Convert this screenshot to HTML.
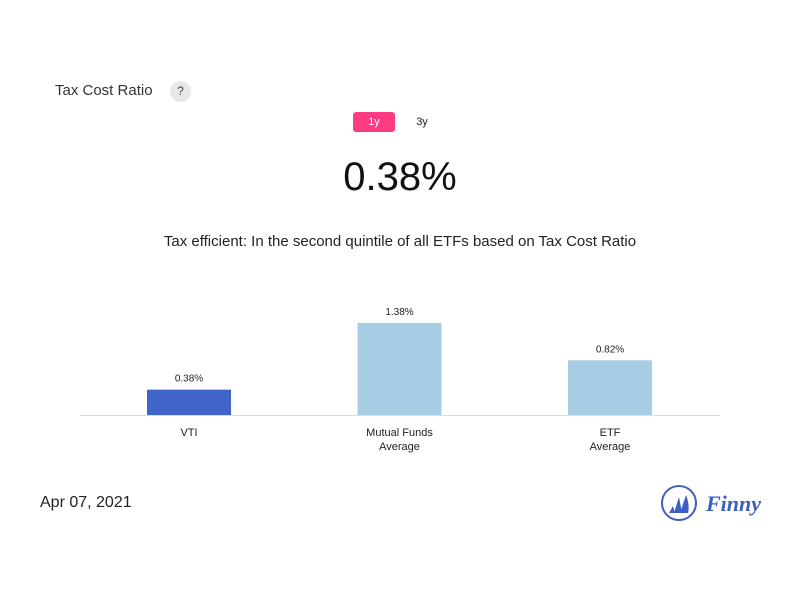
<!DOCTYPE html>
<html><head><meta charset="utf-8"><style>
body{margin:0;width:800px;height:600px;background:#fff;font-family:"Liberation Sans",sans-serif;position:relative;overflow:hidden;color:#222}
.a{position:absolute}
</style></head><body>
<div class="a" style="left:55px;top:82px;font-size:15px;color:#333">Tax Cost Ratio</div>
<div class="a" style="left:170px;top:81px;width:21px;height:21px;border-radius:50%;background:#e8e8e8;font-size:12px;text-align:center;line-height:21px;color:#444">?</div>
<div class="a" style="left:353px;top:112px;width:42px;height:20px;background:#fd3b82;border-radius:3px;color:#fff;font-size:11px;text-align:center;line-height:20px">1y</div>
<div class="a" style="left:405px;top:112px;width:34px;height:20px;color:#222;font-size:11px;text-align:center;line-height:20px">3y</div>
<div class="a" style="left:0;width:800px;top:155px;text-align:center;font-size:40px;color:#111">0.38%</div>
<div class="a" style="left:0;width:800px;top:233px;text-align:center;font-size:15px;color:#222">Tax efficient: In the second quintile of all ETFs based on Tax Cost Ratio</div>
<svg class="a" style="left:0;top:0" width="800" height="600" id="chart">
<line x1="80" y1="415.5" x2="720" y2="415.5" stroke="#ddd"/>
</svg>
<div class="a" style="left:40px;top:494px;font-size:16px;color:#222">Apr 07, 2021</div>
<svg class="a" style="left:660px;top:483px" width="110" height="42">
<circle cx="19" cy="20" r="17" fill="none" stroke="#3d5fc4" stroke-width="2"/>
<path d="M9 30 L13 23 L15 30Z M14 30 L19 14 L22 30Z M20 30 L26 12 Q30 22 28 30Z" fill="#3d5fc4"/>
<text x="46" y="28" font-family="Liberation Serif,serif" font-style="italic" font-weight="bold" font-size="22" fill="#3d5fc4">Finny</text>
</svg>
<script>
const categories=["VTI","Mutual Funds|Average","ETF|Average"];
const values=[0.38,1.38,0.82];
const labels=["0.38%","1.38%","0.82%"];
const svg=document.getElementById('chart');
const NS="http://www.w3.org/2000/svg";
const base=415, scale=66.7;
const y=v=>base-v*scale;
const x=i=>189+i*210.5;
values.forEach((v,i)=>{
 const r=document.createElementNS(NS,'rect');
 r.setAttribute('x',x(i)-42);r.setAttribute('width',84);
 r.setAttribute('y',y(v));r.setAttribute('height',base-y(v));
 r.setAttribute('fill',i===0?'#4164c8':'#a6cde4');
 
 
 svg.appendChild(r);
 const t=document.createElementNS(NS,'text');
 t.setAttribute('x',x(i));t.setAttribute('y',y(v)-8);
 t.setAttribute('text-anchor','middle');t.setAttribute('font-size','10');t.setAttribute('fill','#222');
 t.textContent=labels[i];
 
 
 svg.appendChild(t);
 categories[i].split('|').forEach((s,j)=>{
  const c=document.createElementNS(NS,'text');
  c.setAttribute('x',x(i));c.setAttribute('y',436+j*14);
  c.setAttribute('text-anchor','middle');c.setAttribute('font-size','11');c.setAttribute('fill','#222');
  c.textContent=s;
  
  
  svg.appendChild(c);
 });
});
</script>
</body></html>
